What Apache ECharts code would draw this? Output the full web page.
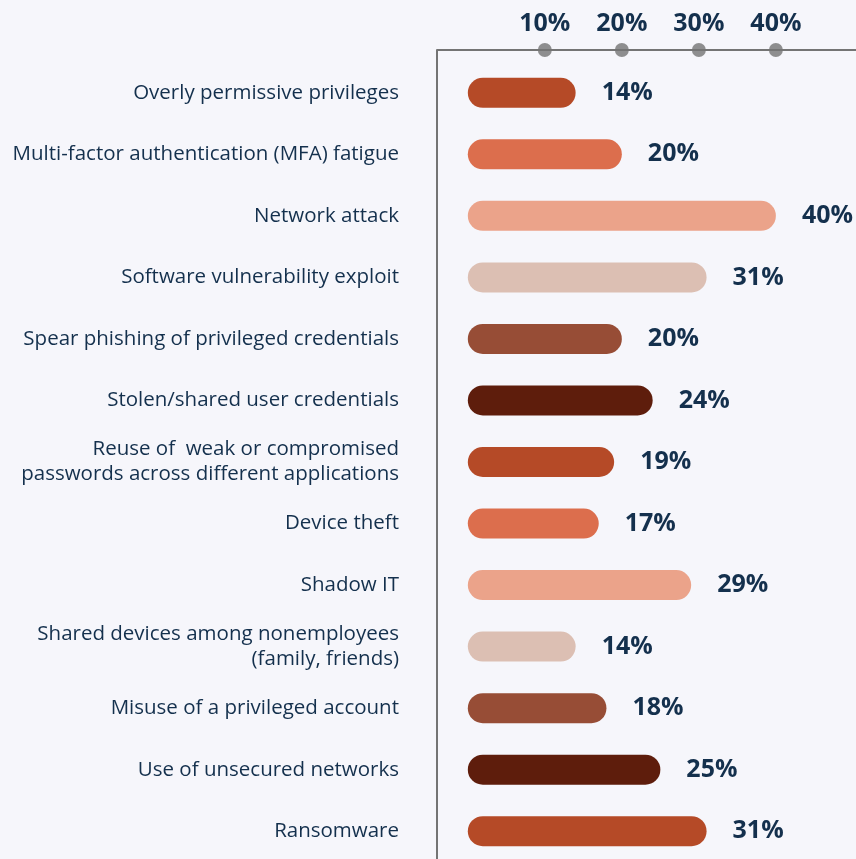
<!DOCTYPE html>
<html>
<head>
<meta charset="utf-8">
<script src="https://cdn.jsdelivr.net/npm/echarts@6/dist/echarts.min.js"></script>
<style>
  html, body { margin: 0; padding: 0; background: #f6f6fb; overflow: hidden; }
  #chart { width: 856px; height: 862px; }
</style>
</head>
<body>
<div id="chart"></div>
<script>
  // categories, top to bottom
  var categories = [
    'Overly permissive privileges',
    'Multi-factor authentication (MFA) fatigue',
    'Network attack',
    'Software vulnerability exploit',
    'Spear phishing of privileged credentials',
    'Stolen/shared user credentials',
    'Reuse of  weak or compromised\npasswords across different applications',
    'Device theft',
    'Shadow IT',
    'Shared devices among nonemployees\n(family, friends)',
    'Misuse of a privileged account',
    'Use of unsecured networks',
    'Ransomware'
  ];
  var values = [14, 20, 40, 31, 20, 24, 19, 17, 29, 14, 18, 25, 31];
  var tickValues = [10, 20, 30, 40];
  var palette = ['#b54a27', '#dc6e4d', '#eba38a', '#dcbfb3', '#974d36', '#5e1d0c'];

  var navy = '#14304d';
  var axisGray = '#747474';

  // chart box is a few px taller than the window so the last row sits like the original
  var chart = echarts.init(document.getElementById('chart'));
  var option = {
    backgroundColor: '#f6f6fb',
    animation: false,
    grid: { left: 437, right: 0, top: 62, bottom: 0, containLabel: false },
    xAxis: {
      type: 'value',
      position: 'top',
      offset: 12,
      min: -4,
      max: 50.4,
      splitLine: { show: false },
      axisTick: { show: false },
      axisLine: { show: true, onZero: false, lineStyle: { color: axisGray, width: 2 } },
      axisLabel: {
        customValues: tickValues,
        formatter: '{value}%',
        margin: 14,
        color: navy,
        fontFamily: 'Open Sans',
        fontWeight: 'bold',
        fontSize: 25
      }
    },
    yAxis: [
      {
        type: 'category',
        inverse: true,
        data: categories,
        axisTick: { show: false },
        axisLine: { show: true, onZero: false, lineStyle: { color: axisGray, width: 2 } },
        axisLabel: {
          margin: 38,
          color: navy,
          fontFamily: 'Open Sans',
          fontSize: 20.5,
          lineHeight: 25,
          align: 'right'
        }
      },
      { type: 'value', min: 0, max: 1, show: false }
    ],
    graphic: [
      {
        type: 'line',
        shape: { x1: 437, y1: 50, x2: 437, y2: 62 },
        style: { stroke: axisGray, lineWidth: 2 }
      }
    ],
    series: [
      {
        type: 'bar',
        data: values.map(function (v, i) {
          return { value: v, itemStyle: { color: palette[i % palette.length] } };
        }),
        barWidth: 30,
        itemStyle: { borderRadius: 15 },
        label: {
          show: true,
          position: 'right',
          distance: 26,
          formatter: '{c}%',
          color: navy,
          fontFamily: 'Open Sans',
          fontWeight: 'bold',
          fontSize: 25
        }
      },
      {
        type: 'scatter',
        yAxisIndex: 1,
        data: tickValues.map(function (t) { return [t, 1]; }),
        symbolSize: 14,
        symbolOffset: [0, -12],
        clip: false,
        itemStyle: { color: axisGray },
        z: 5
      }
    ]
  };
  chart.setOption(option);
</script>
</body>
</html>
